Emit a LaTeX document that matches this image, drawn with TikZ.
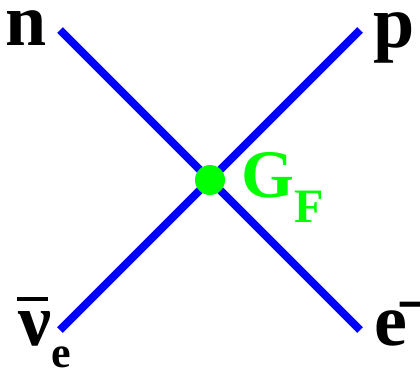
\documentclass[tikz,border=0pt]{standalone}
\usepackage{fontspec}
\setmainfont{Liberation Serif}
\begin{document}
\begin{tikzpicture}[x=1pt,y=-1pt,
  prop/.style={draw={rgb,255:red,0;green,0;blue,255},line width=8pt,line cap=butt},
  lbl/.style={inner sep=0pt,anchor=base,font=\bfseries\fontsize{74}{74}\selectfont},
  sub/.style={inner sep=0pt,anchor=base,font=\bfseries\fontsize{44}{44}\selectfont},
  glbl/.style={inner sep=0pt,anchor=base,text={rgb,255:red,0;green,255;blue,0}}]
\useasboundingbox (0,0) rectangle (420,372);
\coordinate (tl) at (60,30);
\coordinate (tr) at (360,30);
\coordinate (bl) at (60,330);
\coordinate (br) at (360,330);
\draw[prop] (tl) -- (br);
\draw[prop] (tr) -- (bl);
\node[circle,fill={rgb,255:red,0;green,255;blue,0},minimum size=30pt,inner sep=0pt] (v) at (210,180) {};
\node[lbl] (n) at (26.5,45) {n};
\node[lbl] (p) at (394.5,47) {p};
\node[lbl] (e) at (391,345) {e};
\node[sub] (em) at (414,318) {\fontspec{DejaVu Sans}\bfseries −};
\node[lbl] (nu) at (35,345) {ν};
\draw[line width=4pt,line cap=butt] (17,298.5) -- (48,298.5);
\node[sub] (nue) at (61,367) {e};
\node[glbl,font=\bfseries\fontsize{68}{68}\selectfont] (G) at (267.5,197) {G};
\node[glbl,font=\bfseries\fontsize{48}{48}\selectfont] (F) at (309,222) {F};
\end{tikzpicture}
\end{document}
